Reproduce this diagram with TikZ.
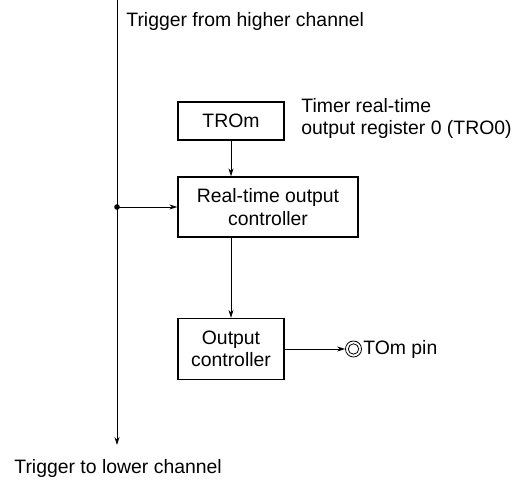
\documentclass[tikz,border=0pt]{standalone}
\usepackage{fontspec}
\setmainfont{Liberation Sans}
\usetikzlibrary{arrows.meta}

\tikzset{
  >={Stealth[length=8pt,width=5pt]},   % default arrow tip
  blk/.style={draw, line width=1.3pt, inner sep=0pt, align=center},
  lbl/.style={inner sep=0pt, align=left}
}

\begin{document}
\begin{tikzpicture}[x=1pt, y=1pt, line width=0.8pt, font=\fontsize{19.4}{22.5}\selectfont]

\useasboundingbox (0,0) rectangle (522,481);

%==================== trigger line ====================
\coordinate (trigtop) at (117,481);
\coordinate (trigbot) at (117,36);
\coordinate (junc) at (117,274);
\draw[->] (trigtop) -- (trigbot);
\fill (junc) circle (2.8pt);

\node[lbl, anchor=west] (from) at (126,460) {Trigger from higher channel};
\node[lbl, anchor=west] (to) at (14,13) {Trigger to lower channel};

%==================== blocks ====================
\node[blk, minimum width=106pt, minimum height=38pt] (trom) at (231,360) {TROm};
\node[blk, minimum width=180pt, minimum height=60pt] (rtoc) at (268,274)
    {Real-time output\\controller};
\node[blk, minimum width=106pt, minimum height=61pt] (outctl) at (231,132)
    {Output\\controller};

% register name
\node[lbl, anchor=west] (tronote) at (301,362.5)
    {Timer real-time\\output register 0 (TRO0)};

% output pin
\node[draw, circle, minimum size=16pt, inner sep=0pt] (pin) at (353.5,132) {};
\draw (pin.center) circle (5.2pt);
\node[lbl, anchor=west] (pinlbl) at ([xshift=1pt]pin.east) {TOm pin};

%==================== connectors ====================
\draw[->] (junc) -- (rtoc.west);
\draw[->] (trom.south) -- (trom.south |- rtoc.north);
\draw[->] (outctl.north |- rtoc.south) -- (outctl.north);
\draw[->] (outctl.east) -- (pin.west);

\end{tikzpicture}
\end{document}
